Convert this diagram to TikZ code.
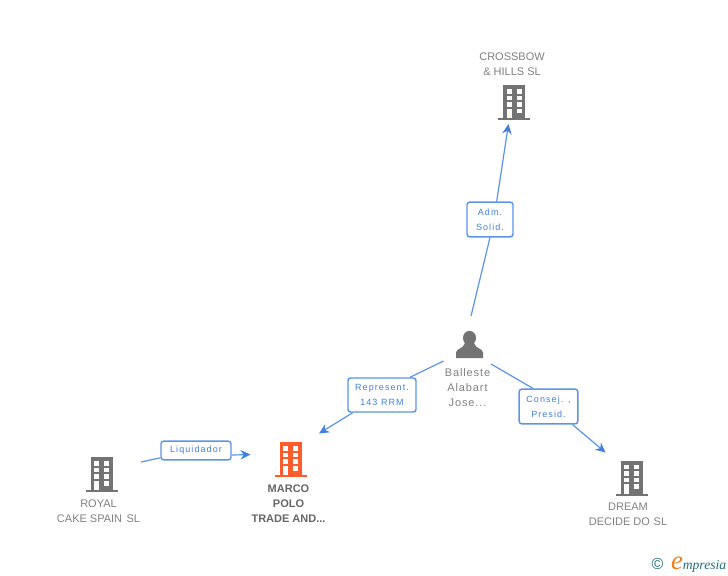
\documentclass[tikz,border=0pt]{standalone}
\usepackage{fontspec}
\setmainfont{Liberation Sans}
\newfontfamily\tagfont[LetterSpace=12]{Liberation Sans}
\newfontfamily\widename[LetterSpace=8]{Liberation Sans}
\newfontfamily\logofont{Liberation Serif}
\usetikzlibrary{arrows.meta}

\definecolor{linkblue}{rgb}{0.36,0.58,0.91}
\definecolor{tagblue}{rgb}{0.25,0.50,0.88}
\definecolor{iconGray}{rgb}{0.45,0.45,0.45}
\definecolor{nameGray}{rgb}{0.50,0.50,0.50}
\definecolor{hotOrange}{rgb}{1.00,0.36,0.18}
\definecolor{logoTeal}{rgb}{0.13,0.42,0.50}
\definecolor{logoOrange}{rgb}{0.93,0.50,0.10}

\tikzset{every picture/.style={line width=0.75pt}}
\tikzset{
	iconup/.style={yscale=-1},
	firmname/.style={text=nameGray,font=\fontsize{8.25pt}{11.25pt}\selectfont,align=center,inner sep=0pt},
	mainname/.style={firmname,text=black!60,font=\fontsize{8.25pt}{11.25pt}\selectfont\bfseries},
	personname/.style={firmname,font=\fontsize{8.25pt}{11.25pt}\widename},
	roletag/.style={draw=linkblue,line width=1.1pt,fill=white,rounded corners=2pt,text=tagblue,
		font=\fontsize{6.75pt}{11.25pt}\tagfont,align=center,inner sep=0pt},
	link/.style={draw=linkblue,line width=0.9pt},
	linkarrow/.style={link,-{Stealth[length=7.5pt,width=7pt,color=tagblue]}},
	building/.pic={
		\fill (-11,0) rectangle (11,33);
		\fill (-16,33) rectangle (16,35);
		\foreach \rowy in {4,10.5,17}{
			\fill[white] (-7.7,\rowy) rectangle ++(5,4.6);
			\fill[white] (2.2,\rowy) rectangle ++(5,4.6);
		}
		\fill[white] (-7.7,23.7) rectangle (-2.7,33);
		\fill[white] (2.2,23.7) rectangle ++(5,4.6);
	},
	personicon/.pic={
		\fill (0,7) ellipse (6.5 and 7.2);
		\fill (-13.5,27) -- (-13.5,21.5) .. controls (-13.5,17.5) and (-6,18) .. (-4.5,12)
			-- (4.5,12) .. controls (6,18) and (13.5,17.5) .. (13.5,21.5) -- (13.5,27) -- cycle;
	}
}

\begin{document}
\begin{tikzpicture}[x=0.75pt,y=0.75pt,yscale=-1,xscale=1]
	\useasboundingbox (0,0) rectangle (728,575);

	% Icons
	\pic[iconGray,iconup] at (514.3,85) {building};
	\pic[iconGray,iconup] at (101.5,457.3) {building};
	\pic[hotOrange,iconup] at (291,442.3) {building};
	\pic[iconGray,iconup] at (631.5,460.7) {building};
	\pic[iconGray,iconup] at (469.5,331) {personicon};

	% Text Node
	\node[firmname] (crossbow) at (512,64.2) {CROSSBOW\\\& HILLS SL};
	\node[firmname] (royal) at (98.5,511.2) {ROYAL\\CAKE SPAIN\ \hspace{1pt}SL};
	\node[mainname] (marco) at (288.5,503.5) {MARCO\\POLO\\TRADE AND...};
	\node[firmname] (dream) at (628,514.2) {DREAM\\DECIDE DO\ \hspace{0.5pt}SL};
	\node[personname] (balleste) at (467.5,387.5) {Balleste\\Alabart\\Jose...};

	% Role tags
	\node[roletag,minimum width=34.5pt,minimum height=26pt] (admTag) at (490,219.5) {Adm.\\Solid.};
	\node[roletag,minimum width=51pt,minimum height=25.5pt] (repTag) at (382,395) {Represent.\\143 RRM};
	\node[roletag,minimum width=44pt,minimum height=26pt] (consTag) at (548.5,406.5) {Consej. ,\\Presid.};
	\node[roletag,minimum width=52.5pt,minimum height=14pt] (liqTag) at (196,450.5) {Liquidador};

	% Free ends
	\coordinate (fromUp) at (471,316);
	\coordinate (toCrossbow) at (508.5,124);
	\coordinate (fromLeft) at (443.5,361);
	\coordinate (toMarco) at (319,433.5);
	\coordinate (fromRight) at (491,364);
	\coordinate (toDream) at (605.5,452.5);
	\coordinate (fromRoyal) at (141,462);
	\coordinate (toHot) at (250.5,454.5);

	% Links
	\draw[link] (fromUp) -- (admTag.south);
	\draw[linkarrow] ([xshift=5pt]admTag.north) -- (toCrossbow);
	\draw[link] (fromLeft) -- ([xshift=21pt]repTag.north);
	\draw[linkarrow] ([xshift=-22pt]repTag.south) -- (toMarco);
	\draw[link] (fromRight) -- ([xshift=-11.6pt]consTag.north);
	\draw[linkarrow] ([xshift=18pt]consTag.south) -- (toDream);
	\draw[link] (fromRoyal) -- ([yshift=5.5pt]liqTag.west);
	\draw[linkarrow] ([yshift=3.4pt]liqTag.east) -- (toHot);

	% Logo
	\node[text=logoTeal,inner sep=0pt,font=\fontsize{12pt}{12pt}\selectfont] (logoMark) at (657.5,564) {\textcopyright};
	\node[inner sep=0pt,anchor=base west,font=\logofont\itshape\fontsize{10.2pt}{11pt}\selectfont] (logoWord) at (670.5,569)
		{\textcolor{logoOrange}{\fontsize{20pt}{20pt}\selectfont e}\textcolor{logoTeal}{mpresia}};
\end{tikzpicture}
\end{document}
